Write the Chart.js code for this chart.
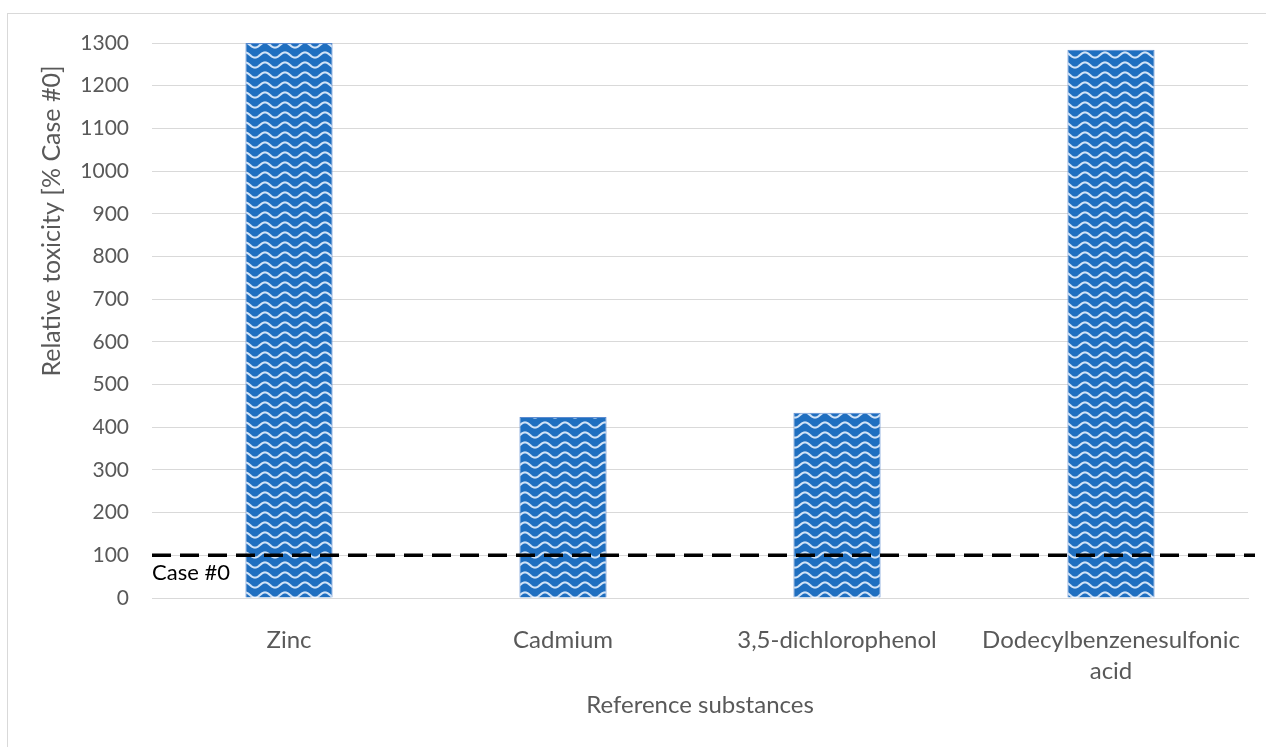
<!DOCTYPE html>
<html>
<head>
<meta charset="utf-8">
<script src="https://cdn.jsdelivr.net/npm/chart.js@4/dist/chart.umd.min.js"></script>
<style>
  html, body { margin: 0; padding: 0; background: #fff; }
  #wrap { position: relative; width: 1266px; height: 747px; overflow: hidden; }
  #frame { position: absolute; left: 7px; top: 13px; width: 1280px; height: 760px; border: 1px solid #d9d9d9; pointer-events: none; }
  canvas { position: absolute; left: 0; top: 0; }
</style>
</head>
<body>
<div id="wrap">
  <div id="frame"></div>
  <canvas id="chart" width="1266" height="747"></canvas>
</div>
<script>
const substances = [ 'Zinc', 'Cadmium', '3,5-dichlorophenol', [ 'Dodecylbenzenesulfonic', 'acid' ] ]
const toxicity = [ 1300, 424, 434, 1284 ]
const yMax = 1300
const yStep = 100
const caseValue = 100
const caseLabel = 'Case #0'
const yTitle = 'Relative toxicity [% Case #0]'
const xTitle = 'Reference substances'

const FONT = 'Lato, "Open Sans", sans-serif'
const GREY = '#595959'

// wave pattern like the Excel "wave" fill
function wavePattern( ) {
  const tile = document.createElement( 'canvas' )
  tile.width = 20
  tile.height = 10
  const c = tile.getContext( '2d' )
  c.fillStyle = '#1f6fc0'
  c.fillRect( 0, 0, 20, 10 )
  c.strokeStyle = 'rgba(228,240,253,0.9)'
  c.lineWidth = 2.1
  c.beginPath( )
  for ( let x = -1; x <= 21; x += 0.5 ) {
    const y = 5 - 2.6 * Math.sin( 2 * Math.PI * x / 20 )
    if ( x === -1 ) c.moveTo( x, y )
    else c.lineTo( x, y )
  }
  c.stroke( )
  return document.getElementById( 'chart' ).getContext( '2d' ).createPattern( tile, 'repeat' )
}

const caseLinePlugin = {
  id: 'caseLine',
  afterDatasetsDraw( chart ) {
    const { ctx, chartArea, scales } = chart
    const y = scales.y.getPixelForValue( caseValue )
    ctx.save( )
    ctx.strokeStyle = '#000'
    ctx.lineWidth = 3.5
    ctx.setLineDash( [ 19, 9 ] )
    ctx.beginPath( )
    ctx.moveTo( chartArea.left, y )
    ctx.lineTo( chartArea.right + 7, y )
    ctx.stroke( )
    ctx.setLineDash( [ ] )
    ctx.fillStyle = '#000'
    ctx.font = '22px ' + FONT
    ctx.textBaseline = 'middle'
    ctx.fillText( caseLabel, chartArea.left, y + 18 )
    ctx.restore( )
  }
}

// y title sits above the middle of the axis, as in the original
const yTitlePlugin = {
  id: 'yTitle',
  afterDraw( chart ) {
    const { ctx, chartArea } = chart
    ctx.save( )
    ctx.translate( 52, chartArea.top + 178 )
    ctx.rotate( -Math.PI / 2 )
    ctx.fillStyle = GREY
    ctx.font = '25px ' + FONT
    ctx.textAlign = 'center'
    ctx.textBaseline = 'middle'
    ctx.fillText( yTitle, 0, 0 )
    ctx.restore( )
  }
}

new Chart( document.getElementById( 'chart' ), {
  type: 'bar',
  data: {
    labels: substances,
    datasets: [ {
      data: toxicity,
      backgroundColor: wavePattern( ),
      borderColor: '#5b8bd0',
      borderWidth: 1,
      barPercentage: 0.318,
      categoryPercentage: 1
    } ]
  },
  options: {
    responsive: false,
    animation: false,
    events: [ ],
    layout: { padding: { top: 43, right: 18, left: 0, bottom: 0 } },
    plugins: { legend: { display: false }, tooltip: { enabled: false } },
    scales: {
      x: {
        grid: { display: false },
        border: { color: '#d9d9d9', width: 1 },
        ticks: { color: GREY, font: { family: FONT, size: 24, lineHeight: 1.29 }, padding: 19, maxRotation: 0, autoSkip: false },
        title: { display: true, text: xTitle, color: GREY, font: { family: FONT, size: 24, lineHeight: 1.2 }, padding: { top: 0, bottom: 27 } },
        afterFit( scale ) { scale.height = 149 }
      },
      y: {
        min: 0,
        max: yMax,
        grid: { color: '#d9d9d9', drawTicks: false },
        border: { display: false },
        ticks: { stepSize: yStep, color: GREY, font: { family: FONT, size: 21 }, padding: 23, callback: ( v ) => String( v ) },
        afterFit( scale ) { scale.width = 152 }
      }
    }
  },
  plugins: [ caseLinePlugin, yTitlePlugin ]
} )
</script>
</body>
</html>
